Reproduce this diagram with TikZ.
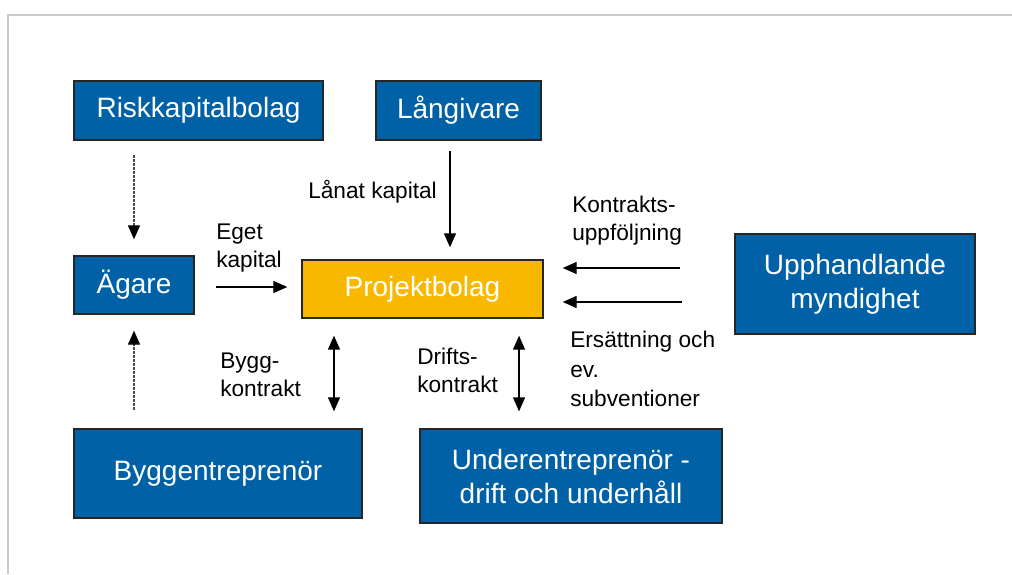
\documentclass[tikz,border=0pt]{standalone}
\usepackage{fontspec}
\setmainfont{Liberation Sans}
\usetikzlibrary{arrows.meta}
\definecolor{boxBlue}{HTML}{0061A6}
\definecolor{boxGold}{HTML}{F9B800}
\definecolor{frameGray}{HTML}{C8C8C8}

\tikzset{
  bluebox/.style={draw=black!85, line width=1pt, fill=boxBlue, text=white,
    align=center, inner sep=0pt, font=\fontsize{21}{25.5}\selectfont},
  goldbox/.style={bluebox, fill=boxGold},
  lbl/.style={anchor=west, align=left, inner sep=0pt,
    font=\fontsize{17}{20.6}\selectfont},
  arr/.style={-{Triangle[length=10.5pt,width=9pt]}, line width=1pt},
  dblarr/.style={{Triangle[length=10.5pt,width=9pt]}-{Triangle[length=10.5pt,width=9pt]}, line width=1pt},
  dotarr/.style={-{Triangle[length=10.5pt,width=9pt,black]}, draw=black!70,
    line width=1pt, dash pattern=on 2pt off 1pt},
}

\begin{document}
\begin{tikzpicture}[x=0.75pt, y=-0.75pt]
  \useasboundingbox (0,0) rectangle (1012,574);
  % frame
  \draw[frameGray, line width=1.5pt] (1012,15) -- (8,15) -- (8,574);

  % boxes
  \node[bluebox, minimum width=186.8pt, minimum height=44.3pt] (risk) at (198.5,110.5) {Riskkapitalbolag};
  \node[bluebox, minimum width=123.8pt, minimum height=44.3pt] (lang) at (458.5,110.5) {Långivare};
  \node[bluebox, minimum width=90pt, minimum height=43.5pt] (agare) at (134,285) {Ägare};
  \node[goldbox, minimum width=180.8pt, minimum height=43.5pt] (proj) at (422.5,289) {Projektbolag};
  \node[bluebox, minimum width=180pt, minimum height=75pt] (upph) at (855,284) {Upphandlande\\myndighet};
  \node[bluebox, minimum width=216pt, minimum height=66.8pt] (bygg) at (218,473.5) {Byggentreprenör};
  \node[bluebox, minimum width=226.5pt, minimum height=70.5pt] (under) at (571,476) {Underentreprenör -\\drift och underhåll};

  % labels
  \node[lbl] (eget) at (216,248) {Eget\\kapital};
  \node[lbl, anchor=base west] (lanat) at (308,198) {Lånat kapital};
  \node[lbl] (uppf) at (572,220.5) {Kontrakts-\\uppföljning};
  \node[lbl, font=\fontsize{17}{22}\selectfont] (ers) at (570,369) {Ersättning och\\ev.\\subventioner};
  \node[lbl] (byggk) at (220,375) {Bygg-\\kontrakt};
  \node[lbl] (drift) at (417,370.5) {Drifts-\\kontrakt};

  % connectors
  \draw[dotarr, shorten <=11pt, shorten >=12pt] (agare.north |- risk.south) -- (agare.north);
  \draw[dotarr, shorten <=14pt, shorten >=12pt] (agare.south |- bygg.north) -- (agare.south);
  \draw[arr, shorten <=15.75pt, shorten >=10.5pt] ([yshift=-1.5pt]agare.east) -- ([yshift=-1.5pt]agare.east -| proj.west);
  \draw[arr, shorten <=7.5pt, shorten >=9pt] ([xshift=-6.4pt]lang.south) -- ([xshift=-6.4pt]lang.south |- proj.north);
  \draw[arr, shorten <=41pt, shorten >=14.25pt] ([yshift=12pt]upph.west) -- ([yshift=12pt]upph.west -| proj.east);
  \draw[arr, shorten <=39pt, shorten >=14.25pt] ([yshift=-13.5pt]upph.west) -- ([yshift=-13.5pt]upph.west -| proj.east);
  \draw[dblarr, shorten <=12.75pt, shorten >=12.75pt] ([xshift=-66.4pt]proj.south) -- ([xshift=-66.4pt]proj.south |- bygg.north);
  \draw[dblarr, shorten <=12.75pt, shorten >=12.75pt] ([xshift=72.4pt]proj.south) -- ([xshift=72.4pt]proj.south |- under.north);
\end{tikzpicture}
\end{document}
